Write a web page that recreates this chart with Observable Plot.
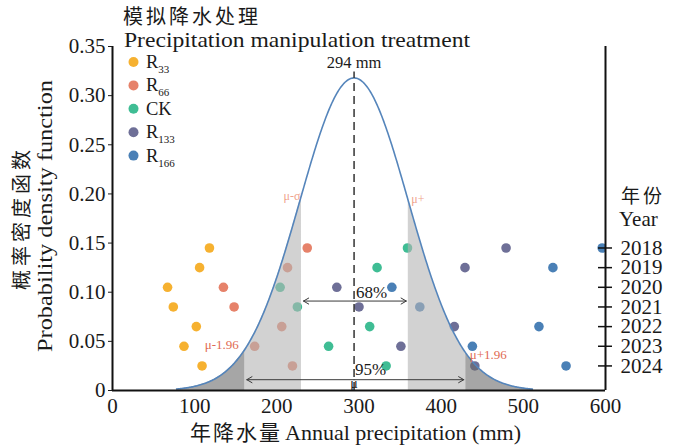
<!DOCTYPE html>
<html>
<head>
<meta charset="utf-8">
<script src="https://cdn.jsdelivr.net/npm/d3@7"></script>
<script src="https://cdn.jsdelivr.net/npm/@observablehq/plot@0.6"></script>
<style>
  body { margin: 0; background: #fff; }
</style>
</head>
<body>
<div id="chart"></div>
<script>
// Years and the level (on the density axis) at which each year's row of dots sits
const years = [2018, 2019, 2020, 2021, 2022, 2023, 2024];
const yearLevels = [0.145, 0.125, 0.105, 0.085, 0.065, 0.045, 0.025];

// Precipitation manipulation treatments and their colours
const treatments = ["R33", "R66", "CK", "R133", "R166"];
const treatmentColors = ["#f6b130", "#e6826a", "#3fbd94", "#6e6f97", "#4a80b6"];

// Annual precipitation (mm) per treatment, 2018 → 2024
const r33 = [118, 106, 67, 74, 102, 87, 109];
const r66 = [237, 213, 135, 148, 206, 173, 219];
const ck = [359, 322, 204, 225, 313, 263, 333];
const r133 = [479, 429, 273, 300, 416, 351, 441];
const r166 = [596, 536, 340, 374, 519, 438, 552];

// Normal curve of long-term annual precipitation
const mean = 294;
const sd = 66;
const peak = 0.318;
const curveStart = 78;
const curveEnd = 511;
const meanLineTop = 0.324;
const band68 = [230, 360];
const band95 = [161, 430];
const arrow68Level = 0.091;
const arrow95Level = 0.011;

// Axis ticks
const xTicks = [0, 100, 200, 300, 400, 500, 600];
const yTicks = [0, 0.05, 0.10, 0.15, 0.20, 0.25, 0.30, 0.35];

const serif = "'Liberation Serif', 'Times New Roman', 'Noto Sans CJK SC', serif";
const cjk = "'Noto Sans CJK SC', 'Liberation Serif', sans-serif";

const seriesValues = [r33, r66, ck, r133, r166];
const dots = treatments.flatMap((t, i) =>
  seriesValues[i].map((x, j) => ({treatment: t, year: years[j], x, y: yearLevels[j]}))
);

// Sample the density curve, making sure the band edges are included exactly
const xs = Array.from(new Set([
  ...d3.range(curveStart, curveEnd, 1), curveEnd, ...band68, ...band95
])).sort((a, b) => a - b);
const density = x => peak * Math.exp(-((x - mean) ** 2) / (2 * sd * sd));
const curve = xs.map(x => ({x, y: density(x)}));
const within = (a, b) => curve.filter(d => d.x >= a && d.x <= b);

const yearOf = new Map(yearLevels.map((v, i) => [v, String(years[i])]));

const plot = Plot.plot({
  width: 679,
  height: 447,
  marginLeft: 112,
  marginRight: 74,
  marginTop: 46,
  marginBottom: 57,
  x: {domain: [0, 600]},
  y: {domain: [0, 0.35]},
  color: {domain: treatments, range: treatmentColors},
  style: {fontFamily: serif, fontSize: "21px", color: "#1a1a1a", background: "#fff"},
  marks: [
    // yearly treatment dots
    Plot.dot(dots, {x: "x", y: "y", fill: "treatment", r: 4.8, clip: true}),
    // shaded tails under the curve
    Plot.areaY(within(band95[0], band68[0]), {x: "x", y: "y", fill: "#b4b4b4", fillOpacity: 0.6}),
    Plot.areaY(within(band68[1], band95[1]), {x: "x", y: "y", fill: "#b4b4b4", fillOpacity: 0.6}),
    Plot.areaY(within(curveStart, band95[0]), {x: "x", y: "y", fill: "#6a6a6a", fillOpacity: 0.6}),
    Plot.areaY(within(band95[1], curveEnd), {x: "x", y: "y", fill: "#6a6a6a", fillOpacity: 0.6}),
    // density curve
    Plot.line(curve, {x: "x", y: "y", stroke: "#5585bb", strokeWidth: 1.6}),
    // mean line
    Plot.ruleX([mean], {y1: 0, y2: meanLineTop, stroke: "#333", strokeWidth: 1.5, strokeDasharray: "8,5"}),
    Plot.text([mean], {x: d => d, y: meanLineTop, text: () => `${mean} mm`, dy: -9, fontSize: 16.5, fill: "#1a1a1a"}),
    Plot.text([mean], {x: d => d, y: 0, text: () => "μ", dy: -7, fontSize: 14, fill: "#1a1a1a"}),
    // 68 % and 95 % arrows
    Plot.arrow([band68[0], band68[1]], {x1: () => mean, x2: d => d, y1: arrow68Level, y2: arrow68Level,
      stroke: "#3a3a3a", strokeWidth: 1, headLength: 9, insetEnd: 2}),
    Plot.arrow([band95[0], band95[1]], {x1: () => mean, x2: d => d, y1: arrow95Level, y2: arrow95Level,
      stroke: "#3a3a3a", strokeWidth: 1, headLength: 9, insetEnd: 2}),
    Plot.text(["68%"], {x: mean, y: arrow68Level, text: d => d, textAnchor: "start", dx: 2, dy: -9, fontSize: 17, fill: "#1a1a1a"}),
    Plot.text(["95%"], {x: mean, y: arrow95Level, text: d => d, textAnchor: "start", dx: 1, dy: -10, fontSize: 17, fill: "#1a1a1a"}),
    // band labels
    Plot.text(["μ-σ"], {x: band68[0], y: density(band68[0]), text: d => d, textAnchor: "end", dx: -1, dy: 1, fontSize: 12, fill: "#f0a48c"}),
    Plot.text(["μ+"], {x: band68[1], y: density(band68[1]), text: d => d, textAnchor: "start", dx: 3, dy: -2, fontSize: 12, fill: "#f0a48c"}),
    Plot.text(["μ-1.96"], {x: band95[0], y: density(band95[0]), text: d => d, textAnchor: "end", dx: -6, dy: -5, fontSize: 13, fill: "#df6a52"}),
    Plot.text(["μ+1.96"], {x: band95[1], y: density(band95[1]), text: d => d, textAnchor: "start", dx: 4, dy: 2, fontSize: 13, fill: "#df6a52"}),
    // frame lines
    Plot.ruleX([0], {y1: 0, y2: 0.35, stroke: "#111", strokeWidth: 2}),
    Plot.ruleX([600], {y1: 0, y2: 0.35, stroke: "#111", strokeWidth: 2}),
    Plot.ruleY([0], {stroke: "#111", strokeWidth: 2.2}),
    // left axis
    Plot.axisY(yTicks, {anchor: "left", tickSize: 4, tickPadding: 3, label: null,
      tickFormat: d => d === 0 ? "0" : d.toFixed(2), fill: "#1a1a1a"}),
    // bottom axis
    Plot.axisX(xTicks, {anchor: "bottom", tickSize: 0, tickPadding: 8, label: null, fill: "#1a1a1a"}),
    // right axis: year ticks crossing the frame line, then the labels
    Plot.ruleY(yearLevels, {x1: 600, x2: 600, insetLeft: -7, insetRight: -7, stroke: "#111", strokeWidth: 1.5}),
    Plot.axisY(yearLevels, {anchor: "right", tickSize: 0, tickPadding: 15, tickFormat: d => yearOf.get(d), label: null, fill: "#1a1a1a"})
  ]
});

const svg = d3.select(plot);

// Titles of the axes
const ink = "#1a1a1a";
svg.append("text")
  .attr("transform", "translate(29,218) rotate(-90)")
  .attr("text-anchor", "middle").attr("font-family", cjk).attr("font-size", 20)
  .attr("letter-spacing", 4).attr("fill", ink).text("概率密度函数");
svg.append("text")
  .attr("transform", "translate(52,216) rotate(-90)")
  .attr("text-anchor", "middle").attr("font-family", serif).attr("font-size", 20)
  .attr("textLength", 272).attr("lengthAdjust", "spacingAndGlyphs")
  .attr("fill", ink).text("Probability density function");

const xTitle = svg.append("text")
  .attr("x", 190).attr("y", 440).attr("text-anchor", "start")
  .attr("font-family", serif).attr("font-size", 21).attr("fill", ink);
xTitle.append("tspan").attr("font-family", cjk).attr("letter-spacing", 2).text("年降水量");
xTitle.append("tspan").attr("dx", 3)
  .attr("textLength", 236).attr("lengthAdjust", "spacingAndGlyphs")
  .text("Annual precipitation (mm)");

svg.append("text")
  .attr("x", 621).attr("y", 203).attr("text-anchor", "start").attr("font-family", cjk).attr("font-size", 19)
  .attr("letter-spacing", 3).attr("fill", ink).text("年份");
svg.append("text")
  .attr("x", 619).attr("y", 226).attr("text-anchor", "start").attr("font-family", serif).attr("font-size", 21)
  .attr("fill", ink).text("Year");

// Legend of the treatments
svg.append("text")
  .attr("x", 123).attr("y", 24).attr("text-anchor", "start").attr("font-family", cjk).attr("font-size", 20)
  .attr("letter-spacing", 3).attr("fill", ink).text("模拟降水处理");
svg.append("text")
  .attr("x", 124).attr("y", 47).attr("text-anchor", "start").attr("font-family", serif).attr("font-size", 21)
  .attr("textLength", 346).attr("lengthAdjust", "spacingAndGlyphs")
  .attr("fill", ink).text("Precipitation manipulation treatment");

const legend = svg.append("g").attr("font-family", serif).attr("fill", ink).attr("text-anchor", "start");
treatments.forEach((t, i) => {
  const cy = 62 + i * 23.4;
  legend.append("circle").attr("cx", 133.5).attr("cy", cy).attr("r", 5).attr("fill", treatmentColors[i]);
  const label = legend.append("text").attr("x", 146).attr("y", cy + 6).attr("font-size", 18.5);
  if (t === "CK") {
    label.text("CK");
  } else {
    label.append("tspan").text("R");
    label.append("tspan").attr("font-size", 11).attr("dy", 5).text(t.slice(1));
  }
});

document.getElementById("chart").appendChild(plot);
</script>
</body>
</html>
